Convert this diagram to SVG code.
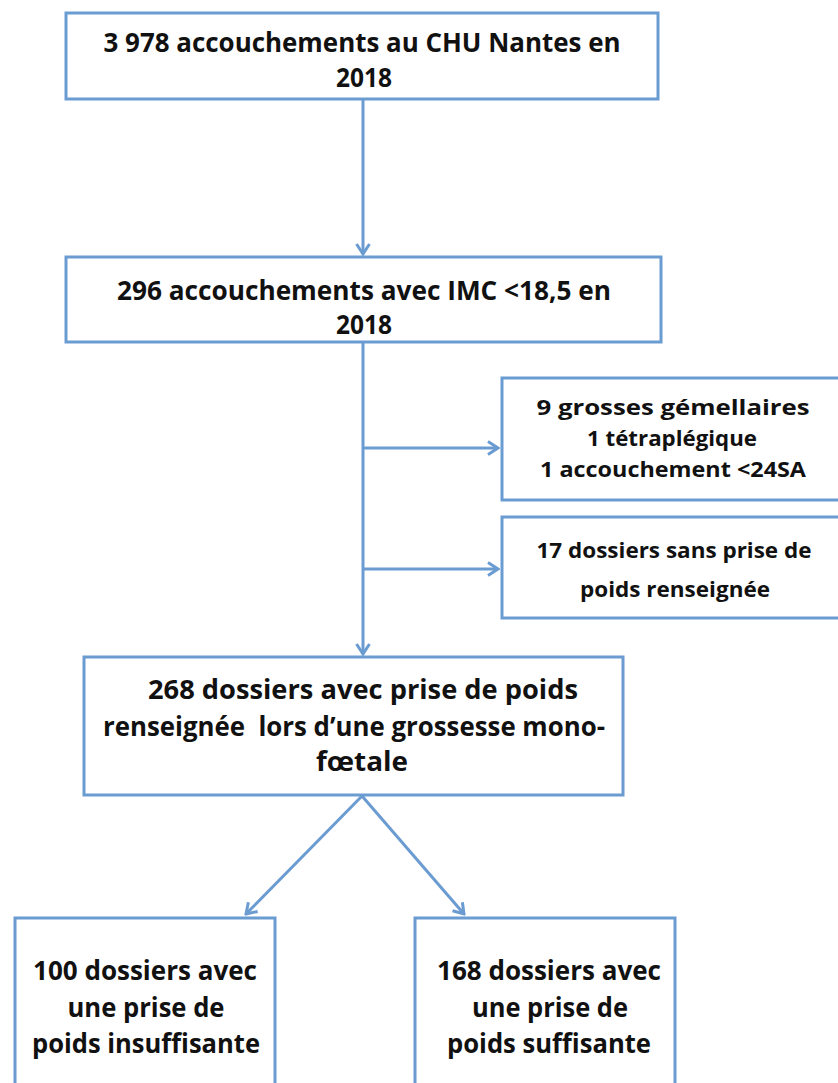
<svg xmlns="http://www.w3.org/2000/svg" width="838" height="1083" viewBox="0 0 838 1083">
<style>
.box{fill:#ffffff;stroke:#6a9bd1;stroke-width:3}
.t{font-family:"Open Sans","Lato","Liberation Sans",sans-serif;font-weight:bold;fill:#111111;text-anchor:middle}
.lg{font-size:26px}
.md{font-size:22px}
.cn{fill:none;stroke:#6a9bd1;stroke-width:3}
</style>
<defs>
<marker id="ah" markerUnits="userSpaceOnUse" viewBox="-12 -8 14 16" refX="0" refY="0" markerWidth="14" markerHeight="16" orient="auto">
<path d="M-10,-6.5 L0,0 L-10,6.5" fill="none" stroke="#6a9bd1" stroke-width="3"/>
</marker>
</defs>
<rect width="838" height="1083" fill="#ffffff"/>
<g id="connectors">
<line class="cn" x1="363" y1="100" x2="363" y2="254" marker-end="url(#ah)"/>
<line class="cn" x1="363" y1="342" x2="363" y2="654" marker-end="url(#ah)"/>
<line class="cn" x1="363" y1="448" x2="498" y2="448" marker-end="url(#ah)"/>
<line class="cn" x1="363" y1="569" x2="498" y2="569" marker-end="url(#ah)"/>
<line class="cn" x1="362" y1="796" x2="246" y2="914" marker-end="url(#ah)"/>
<line class="cn" x1="362" y1="796" x2="464" y2="914" marker-end="url(#ah)"/>
</g>
<g id="n1">
<rect class="box" x="66" y="13" width="592" height="86"/>
<text class="t lg" x="362" y="52" textLength="517" lengthAdjust="spacingAndGlyphs">3 978 accouchements au CHU Nantes en</text>
<text class="t lg" x="364" y="87" textLength="56" lengthAdjust="spacingAndGlyphs">2018</text>
</g>
<g id="n2">
<rect class="box" x="66" y="257" width="595" height="85"/>
<text class="t lg" x="364" y="300" textLength="494" lengthAdjust="spacingAndGlyphs">296 accouchements avec IMC &lt;18,5 en</text>
<text class="t lg" x="364" y="334" textLength="56" lengthAdjust="spacingAndGlyphs">2018</text>
</g>
<g id="n3">
<rect class="box" x="502" y="378" width="345" height="122"/>
<text class="t md" x="673" y="415" textLength="273" lengthAdjust="spacingAndGlyphs">9 grosses gémellaires</text>
<text class="t md" x="672" y="446" textLength="170" lengthAdjust="spacingAndGlyphs">1 tétraplégique</text>
<text class="t md" x="673" y="477" textLength="266" lengthAdjust="spacingAndGlyphs">1 accouchement &lt;24SA</text>
</g>
<g id="n4">
<rect class="box" x="502" y="517" width="345" height="101"/>
<text class="t md" x="674" y="558" textLength="275" lengthAdjust="spacingAndGlyphs">17 dossiers sans prise de</text>
<text class="t md" x="675" y="597" textLength="190" lengthAdjust="spacingAndGlyphs">poids renseignée</text>
</g>
<g id="n5">
<rect class="box" x="84" y="657" width="539" height="138"/>
<text class="t lg" x="363" y="699" textLength="430" lengthAdjust="spacingAndGlyphs">268 dossiers avec prise de poids</text>
<text class="t lg" x="354" y="736" textLength="502" lengthAdjust="spacingAndGlyphs" xml:space="preserve" style="white-space:pre">renseignée  lors d’une grossesse mono-</text>
<text class="t lg" x="362" y="771" textLength="92" lengthAdjust="spacingAndGlyphs">fœtale</text>
</g>
<g id="n6">
<rect class="box" x="15" y="918" width="260" height="180"/>
<text class="t lg" x="145" y="980" textLength="224" lengthAdjust="spacingAndGlyphs">100 dossiers avec</text>
<text class="t lg" x="146" y="1017" textLength="157" lengthAdjust="spacingAndGlyphs">une prise de</text>
<text class="t lg" x="146" y="1053" textLength="228" lengthAdjust="spacingAndGlyphs">poids insuffisante</text>
</g>
<g id="n7">
<rect class="box" x="415" y="918" width="260" height="180"/>
<text class="t lg" x="549" y="980" textLength="224" lengthAdjust="spacingAndGlyphs">168 dossiers avec</text>
<text class="t lg" x="550" y="1017" textLength="156" lengthAdjust="spacingAndGlyphs">une prise de</text>
<text class="t lg" x="549" y="1053" textLength="204" lengthAdjust="spacingAndGlyphs">poids suffisante</text>
</g>
</svg>
